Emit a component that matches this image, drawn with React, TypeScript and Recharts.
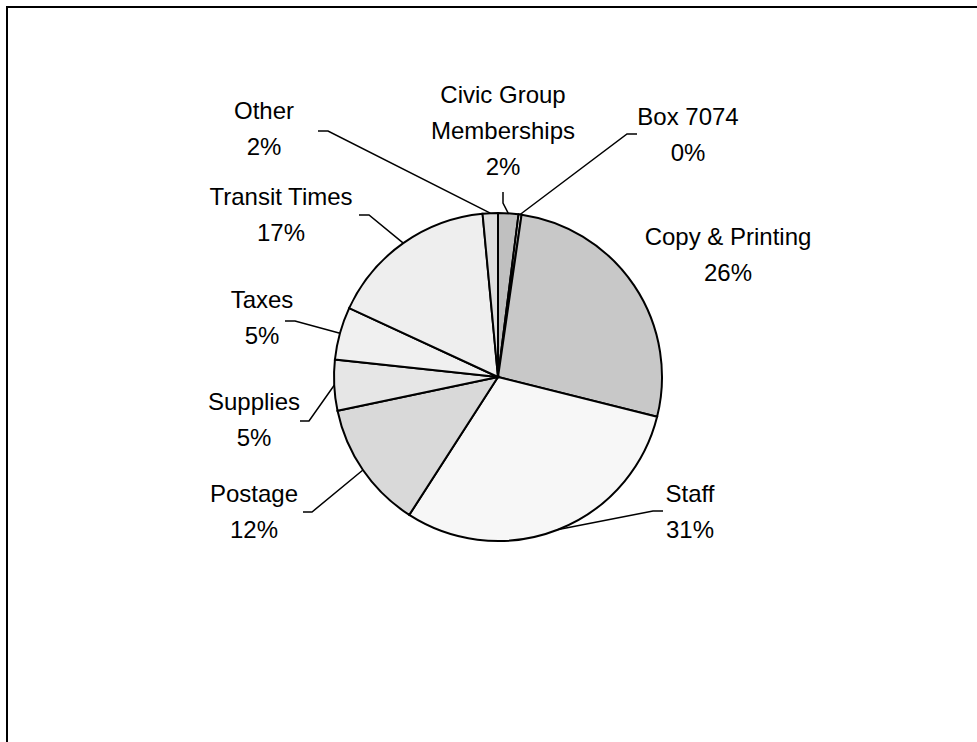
import { PieChart, Pie, Cell } from "recharts";

// slices run clockwise from 12 o'clock
const categories = [
  "Civic Group Memberships",
  "Box 7074",
  "Copy & Printing",
  "Staff",
  "Postage",
  "Supplies",
  "Taxes",
  "Transit Times",
  "Other",
];
const shares = [2.0, 0.3, 26.6, 30.2, 12.6, 5.0, 5.2, 16.6, 1.5];
const pctLabels = ["2%", "0%", "26%", "31%", "12%", "5%", "5%", "17%", "2%"];
const nameLines = [
  ["Civic Group", "Memberships"],
  ["Box 7074"],
  ["Copy & Printing"],
  ["Staff"],
  ["Postage"],
  ["Supplies"],
  ["Taxes"],
  ["Transit Times"],
  ["Other"],
];
const fills = [
  "#c0c0c0",
  "#e0e0e0",
  "#c8c8c8",
  "#f7f7f7",
  "#d9d9d9",
  "#e6e6e6",
  "#f0f0f0",
  "#eeeeee",
  "#dedede",
];

const data = categories.map((name, i) => ({ name, value: shares[i] }));

// label placement: text centre x, first baseline y, optional leader elbow
const labelLayout: { x: number; y: number; hook?: number[] }[] = [
  { x: 503, y: 103, hook: [503, 192, 503, 203] },
  { x: 688, y: 125, hook: [637, 134, 627, 134] },
  { x: 728, y: 245 },
  { x: 690, y: 502, hook: [663, 511, 653, 511] },
  { x: 254, y: 502, hook: [303, 512, 312, 512] },
  { x: 254, y: 410, hook: [300, 421, 309, 421] },
  { x: 262, y: 308, hook: [285, 321, 295, 321] },
  { x: 281, y: 205, hook: [359, 215, 369, 215] },
  { x: 264, y: 119, hook: [318, 131, 328, 131] },
];

const LINE_GAP = 36;
const FONT = '"Liberation Sans", Arial, sans-serif';

const renderLabel = (props: any) => {
  const { index, cx, cy, midAngle, outerRadius } = props;
  const lay = labelLayout[index];
  const rad = Math.PI / 180;
  const ex = cx + outerRadius * Math.cos(-midAngle * rad);
  const ey = cy + outerRadius * Math.sin(-midAngle * rad);
  const lines = [...nameLines[index], pctLabels[index]];
  return (
    <g key={`lbl-${index}`}>
      {lay.hook && (
        <polyline
          points={`${lay.hook[0]},${lay.hook[1]} ${lay.hook[2]},${lay.hook[3]} ${ex},${ey}`}
          fill="none"
          stroke="#000"
          strokeWidth={1.5}
        />
      )}
      <text x={lay.x} y={lay.y} textAnchor="middle" fontSize={24} fontFamily={FONT} fill="#000">
        {lines.map((l, i) => (
          <tspan key={i} x={lay.x} dy={i === 0 ? 0 : LINE_GAP}>
            {l}
          </tspan>
        ))}
      </text>
    </g>
  );
};

export default function App() {
  return (
    <div
      style={{
        position: "absolute",
        left: 0,
        top: 0,
        width: 977,
        height: 742,
        overflow: "hidden",
        background: "#fff",
      }}
    >
      <div
        style={{
          position: "absolute",
          left: 6,
          top: 6,
          width: 1000,
          height: 800,
          borderTop: "2px solid #000",
          borderLeft: "2px solid #000",
        }}
      />
      <div style={{ position: "absolute", left: 0, top: 0 }}>
        <PieChart width={977} height={742} margin={{ top: 0, right: 0, bottom: 0, left: 0 }}>
          <Pie
            data={data}
            dataKey="value"
            nameKey="name"
            cx={498}
            cy={377}
            outerRadius={164}
            startAngle={90}
            endAngle={-270}
            stroke="#000"
            strokeWidth={2}
            label={renderLabel}
            labelLine={false}
            isAnimationActive={false}
          >
            {data.map((d, i) => (
              <Cell key={d.name} fill={fills[i]} stroke="#000" strokeWidth={2} />
            ))}
          </Pie>
        </PieChart>
      </div>
    </div>
  );
}
